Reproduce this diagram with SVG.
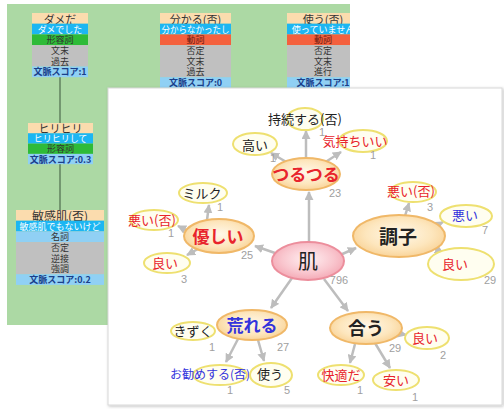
<svg xmlns="http://www.w3.org/2000/svg" width="504" height="409" viewBox="0 0 504 409">
<defs>
<style>
text{font-family:"Noto Sans CJK JP","Noto Sans",sans-serif;text-anchor:middle;dominant-baseline:central}
.t{font-size:11px;fill:#333}
.r{font-size:9px;fill:#333}
.w{font-size:9px;fill:#fff}
.sc{font-size:9px;fill:#1a3f8a;font-weight:bold}
.pe{fill:#fbdcae}.cy{fill:#1cb6f2}.gr{fill:#2ebb38}.rd{fill:#f4603e}.gy{fill:#c0c0c0}.bl{fill:#90d0f4}
.vl{stroke:#4d6b4d;stroke-width:1.2}
.main{fill:url(#og);stroke:#f0b868;stroke-width:2}
.sub{fill:#fffef0;stroke:#eee070;stroke-width:2}
.hub{fill:url(#pg);stroke:#ec8e9c;stroke-width:2}
.ar{stroke:#bdbdbd;stroke-width:2.5;fill:none;marker-end:url(#ah)}
.n{font-family:"Liberation Sans",Arial,sans-serif;font-size:11px;fill:#a0a0a0}
.red{fill:#e8242c}.blue{fill:#3434dc}.blk{fill:#222}
.st{font-size:13px}
.mt{font-size:17px;font-weight:bold}
</style>
<radialGradient id="og" cx="50%" cy="45%" r="60%"><stop offset="0" stop-color="#fff8ea"/><stop offset="0.6" stop-color="#fde6bd"/><stop offset="1" stop-color="#f8cf90"/></radialGradient>
<radialGradient id="pg" cx="50%" cy="45%" r="60%"><stop offset="0" stop-color="#fff0f2"/><stop offset="0.6" stop-color="#f9c6ce"/><stop offset="1" stop-color="#f3a3b0"/></radialGradient>
<marker id="ah" viewBox="0 0 10 10" refX="9" refY="5" markerUnits="userSpaceOnUse" markerWidth="9" markerHeight="9" orient="auto"><path d="M0,0 L10,5 L0,10 z" fill="#bdbdbd"/></marker>
<clipPath id="gc"><rect x="7" y="4" width="343" height="321"/></clipPath>
<filter id="sh" x="-5%" y="-5%" width="110%" height="110%"><feDropShadow dx="1" dy="1" stdDeviation="1.5" flood-color="#000" flood-opacity="0.25"/></filter>
</defs>

<g id="green-panel" clip-path="url(#gc)">
<rect x="7" y="4" width="343" height="321" fill="#acd9a4"/>
<g id="links">
<line class="vl" x1="60" y1="77" x2="60" y2="123"/>
<line class="vl" x1="60" y1="164" x2="60" y2="210"/>
</g>
<g id="card-dameda">
<rect class="pe" x="32" y="13" width="56" height="10.7"/><text class="t" x="60" y="18.5">ダメだ</text>
<rect class="cy" x="32" y="23.7" width="56" height="10.7"/><text class="w" x="60" y="29">ダメでした</text>
<rect class="gr" x="32" y="34.4" width="56" height="10.7"/><text class="r" x="60" y="39.8">形容詞</text>
<rect class="gy" x="32" y="45.1" width="56" height="21.4"/><text class="r" x="60" y="50.5">文末</text><text class="r" x="60" y="61.2">過去</text>
<rect class="bl" x="32" y="66.5" width="56" height="10.7"/><text class="sc" x="60" y="71.9">文脈スコア:1</text>
</g>
<g id="card-wakaru">
<rect class="pe" x="160" y="13" width="71" height="10.7"/><text class="t" x="195.5" y="18.5">分かる(否)</text>
<rect class="cy" x="160" y="23.7" width="71" height="10.7"/><text class="w" x="195.5" y="29" textLength="68" lengthAdjust="spacingAndGlyphs">分からなかったし</text>
<rect class="rd" x="160" y="34.4" width="71" height="10.7"/><text class="r" x="195.5" y="39.8" style="fill:#6a1a10">動詞</text>
<rect class="gy" x="160" y="45.1" width="71" height="32.1"/><text class="r" x="195.5" y="50.5">否定</text><text class="r" x="195.5" y="61.2">文末</text><text class="r" x="195.5" y="71.9">過去</text>
<rect class="bl" x="160" y="77.2" width="71" height="10.7"/><text class="sc" x="195.5" y="82.6">文脈スコア:0</text>
</g>
<g id="card-tsukau">
<rect class="pe" x="287" y="13" width="72" height="10.7"/><text class="t" x="323" y="18.5">使う(否)</text>
<rect class="cy" x="287" y="23.7" width="72" height="10.7"/><text class="w" x="323" y="29">使っていません</text>
<rect class="rd" x="287" y="34.4" width="72" height="10.7"/><text class="r" x="323" y="39.8" style="fill:#6a1a10">動詞</text>
<rect class="gy" x="287" y="45.1" width="72" height="32.1"/><text class="r" x="323" y="50.5">否定</text><text class="r" x="323" y="61.2">文末</text><text class="r" x="323" y="71.9">進行</text>
<rect class="bl" x="287" y="77.2" width="72" height="10.7"/><text class="sc" x="323" y="82.6">文脈スコア:1</text>
</g>
<g id="card-hirihiri">
<rect class="pe" x="28" y="123" width="65" height="10.3"/><text class="t" x="60.5" y="128.2">ヒリヒリ</text>
<rect class="cy" x="28" y="133.3" width="65" height="10.3"/><text class="w" x="60.5" y="138.5">ヒリヒリして</text>
<rect class="gr" x="28" y="143.6" width="65" height="10.3"/><text class="r" x="60.5" y="148.8">形容詞</text>
<rect class="bl" x="28" y="153.9" width="65" height="10.3"/><text class="sc" x="60.5" y="159.1">文脈スコア:0.3</text>
</g>
<g id="card-binkanhada">
<rect class="pe" x="16" y="210" width="88" height="10.7"/><text class="t" x="60" y="215.5" style="font-size:12px">敏感肌(否)</text>
<rect class="cy" x="16" y="220.7" width="88" height="10.7"/><text class="w" x="60" y="226">敏感肌でもないけど</text>
<rect class="bl" x="16" y="231.4" width="88" height="10.7"/><text class="r" x="60" y="236.8">名詞</text>
<rect class="gy" x="16" y="242.1" width="88" height="32.1"/><text class="r" x="60" y="247.5">否定</text><text class="r" x="60" y="258.2">逆接</text><text class="r" x="60" y="268.9">強調</text>
<rect class="bl" x="16" y="274.2" width="88" height="10.7"/><text class="sc" x="60" y="279.6">文脈スコア:0.2</text>
</g>
</g>

<rect id="graph-panel" x="108" y="88" width="394" height="317" fill="#fff" stroke="#d8d8d8" stroke-width="1" filter="url(#sh)"/>

<g id="connectors">
<line class="ar" x1="309" y1="242" x2="309" y2="192"/>
<line class="ar" x1="306" y1="158" x2="306" y2="131"/>
<line class="ar" x1="288" y1="163" x2="271" y2="153"/>
<line class="ar" x1="324" y1="163" x2="341" y2="152"/>
<line class="ar" x1="340" y1="255" x2="356" y2="248"/>
<line class="ar" x1="405" y1="216" x2="409" y2="203"/>
<line class="ar" x1="434" y1="227" x2="443" y2="222"/>
<line class="ar" x1="434" y1="248" x2="443" y2="253"/>
<line class="ar" x1="275" y1="253" x2="255" y2="246"/>
<line class="ar" x1="207" y1="220" x2="209" y2="205"/>
<line class="ar" x1="188" y1="231" x2="178" y2="226"/>
<line class="ar" x1="198" y1="249" x2="187" y2="255"/>
<line class="ar" x1="292" y1="278" x2="271" y2="308"/>
<line class="ar" x1="238" y1="339" x2="226" y2="362"/>
<line class="ar" x1="258" y1="340" x2="264" y2="361"/>
<line class="ar" x1="324" y1="279" x2="348" y2="311"/>
<line class="ar" x1="355" y1="344" x2="350" y2="363"/>
<line class="ar" x1="375" y1="343" x2="390" y2="368"/>
<line class="ar" x1="398" y1="333" x2="406" y2="335"/>
</g>

<g id="node-jizoku"><ellipse class="sub" cx="305" cy="119" rx="18" ry="11"/><text class="st blk" x="305" y="118">持続する(否)</text><text class="n" x="322" y="132">1</text></g>
<g id="node-takai"><ellipse class="sub" cx="255" cy="144" rx="22" ry="11"/><text class="st blk" x="255" y="144">高い</text><text class="n" x="273" y="158">1</text></g>
<g id="node-kimochiii"><ellipse class="sub" cx="363" cy="141" rx="24" ry="11"/><text class="st red" x="355" y="140">気持ちいい</text><text class="n" x="373" y="155">1</text></g>
<g id="node-tsurutsuru"><ellipse class="main" cx="306" cy="174" rx="34" ry="16"/><text class="mt red" x="306" y="173">つるつる</text><text class="n" x="335" y="193">23</text></g>
<g id="node-milk"><ellipse class="sub" cx="203" cy="193" rx="24" ry="10"/><text class="st blk" x="202" y="192">ミルク</text><text class="n" x="220" y="207">1</text></g>
<g id="node-warui-hi-l"><ellipse class="sub" cx="154" cy="220" rx="24" ry="10"/><text class="st red" x="152" y="219">悪い(否)</text><text class="n" x="171" y="233">1</text></g>
<g id="node-yasashii"><ellipse class="main" cx="219" cy="236" rx="35" ry="17"/><text class="mt red" x="218" y="235">優しい</text><text class="n" x="247" y="255">25</text></g>
<g id="node-yoi-l"><ellipse class="sub" cx="167" cy="263" rx="23" ry="10"/><text class="st red" x="165" y="262">良い</text><text class="n" x="184" y="279">3</text></g>
<g id="node-hada"><ellipse class="hub" cx="308" cy="261" rx="36" ry="19"/><text class="blk" x="308" y="260" style="font-size:20px">肌</text><text class="n" x="339" y="280">796</text></g>
<g id="node-choushi"><ellipse class="main" cx="399" cy="236" rx="46" ry="21"/><text class="blk" x="398" y="235" style="font-size:19px;font-weight:bold">調子</text></g>
<g id="node-warui-hi-r"><ellipse class="sub" cx="413" cy="192" rx="23" ry="10"/><text class="st red" x="411" y="190">悪い(否)</text><text class="n" x="430" y="207">3</text></g>
<g id="node-warui"><ellipse class="sub" cx="466" cy="216" rx="26" ry="11"/><text class="st blue" x="465" y="214">悪い</text><text class="n" x="485" y="230">7</text></g>
<g id="node-yoi-r"><ellipse class="sub" cx="461" cy="264" rx="33" ry="16"/><text class="st red" x="455" y="263">良い</text><text class="n" x="490" y="280">29</text></g>
<g id="node-kizuku"><ellipse class="sub" cx="193" cy="331" rx="22" ry="9"/><text class="st blk" x="193" y="330">きずく</text><text class="n" x="212" y="347">1</text></g>
<g id="node-areru"><ellipse class="main" cx="252" cy="325" rx="35" ry="15"/><text class="mt blue" x="252" y="324">荒れる</text><text class="n" x="283" y="347">27</text></g>
<g id="node-osusume"><ellipse class="sub" cx="220" cy="375" rx="27" ry="10"/><text class="blue" x="210" y="373" style="font-size:12px">お勧めする(否)</text><text class="n" x="230" y="390">1</text></g>
<g id="node-tsukau"><ellipse class="sub" cx="271" cy="375" rx="21" ry="12"/><text class="st blk" x="270" y="373">使う</text><text class="n" x="287" y="390">5</text></g>
<g id="node-au"><ellipse class="main" cx="366" cy="328" rx="36" ry="16"/><text class="blk" x="366" y="327" style="font-size:18px;font-weight:bold">合う</text><text class="n" x="395" y="348">29</text></g>
<g id="node-yoi-au"><ellipse class="sub" cx="427" cy="338" rx="22" ry="11"/><text class="st red" x="425" y="337">良い</text><text class="n" x="443" y="355">2</text></g>
<g id="node-kaiteki"><ellipse class="sub" cx="341" cy="375" rx="23" ry="10"/><text class="st red" x="341" y="374">快適だ</text><text class="n" x="360" y="390">1</text></g>
<g id="node-yasui"><ellipse class="sub" cx="396" cy="380" rx="23" ry="10"/><text class="st red" x="396" y="379">安い</text><text class="n" x="415" y="397">1</text></g>
</svg>
